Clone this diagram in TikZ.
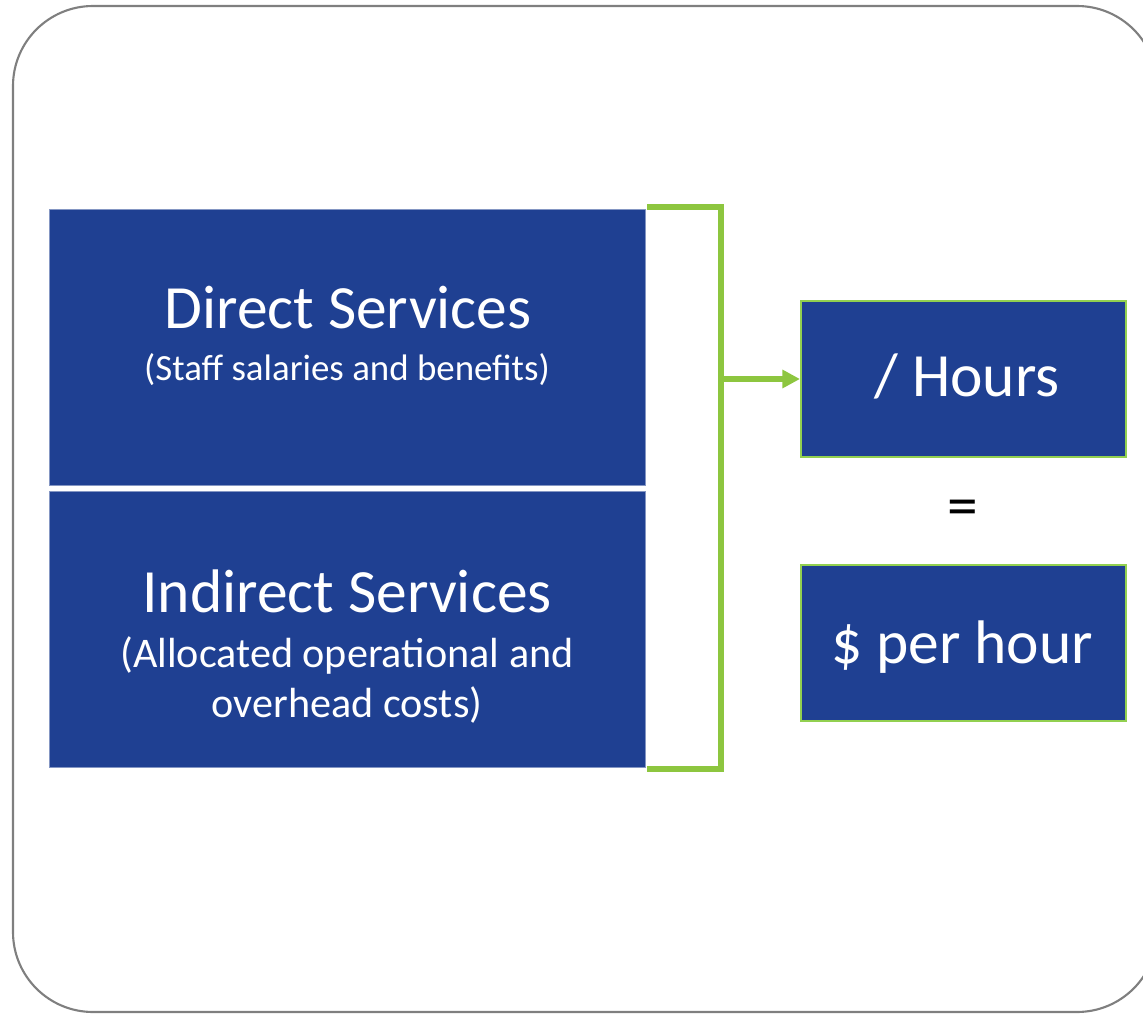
\documentclass[tikz,border=0pt]{standalone}
\usepackage{tikz}
\usepackage{fontspec}
\setmainfont{Carlito}
\usetikzlibrary{arrows.meta}

\definecolor{boxblue}{RGB}{31,64,146}
\definecolor{linegreen}{RGB}{141,198,63}
\definecolor{edgegreen}{RGB}{146,208,80}
\definecolor{framegray}{RGB}{127,127,127}

\tikzset{
  costbox/.style={fill=boxblue, draw=boxblue!55!white, line width=0.4pt,
    minimum width=11.92cm, minimum height=5.52cm, inner sep=0pt},
  ratebox/.style={fill=boxblue, draw=edgegreen, line width=1.2pt,
    minimum width=6.5cm, minimum height=3.12cm, inner sep=0pt},
  bigtext/.style={text=white, inner sep=0pt, anchor=base,
    font=\fontsize{35}{42}\selectfont},
  smalltext/.style={text=white, inner sep=0pt, anchor=base, align=center},
  bracket/.style={linegreen, line width=3.1pt},
}

\begin{document}
\begin{tikzpicture}[x=0.02cm, y=-0.02cm]
  % Page and outer frame
  \useasboundingbox (0,0) rectangle (1143,1014);
  \clip (0,0) rectangle (1143,1014);
  \draw[framegray, line width=1.2pt, rounded corners=1.6cm] (13,6) rectangle (1157,1012);

  % Cost boxes
  \node[costbox] (direct) at (347,347) {};
  \node[costbox] (indirect) at (347,629) {};

  % Labels for cost boxes
  \node[bigtext] (directtitle) at (348,328) {Direct Services};
  \node[smalltext, font=\fontsize{21}{25}\selectfont] (directnote) at (347,380) {(Staff salaries and benefits)};
  \node[bigtext] (indirecttitle) at (347,612) {Indirect Services};
  \node[smalltext, font=\fontsize{24}{28}\selectfont] (indirectnote) at (347,717)
    {(Allocated operational and\\overhead costs)};

  % Rate boxes
  \node[ratebox] (hours) at (963.5,379) {};
  \node[ratebox] (rate) at (963.5,643) {};
  \node[bigtext] (hourstext) at (967,396) {/ Hours};
  \node[bigtext] (ratetext) at (962,663) {\$ per hour};
  \node[font=\fontsize{35}{42}\selectfont, inner sep=0pt] (equals) at (963,513) {=};

  % Bracket joining the cost boxes
  \coordinate (brtop) at (647,207);
  \coordinate (brtopr) at (721,207);
  \coordinate (brbotr) at (721,769);
  \coordinate (brbot) at (647,769);
  \coordinate (brmid) at (721,379);
  \draw[bracket] (brtop) -- (brtopr) -- (brbotr) -- (brbot);

  % Arrow to the hours box
  \draw[bracket, -{Triangle[length=10pt, width=10pt]}] (brmid) -- (hours.west);
\end{tikzpicture}
\end{document}
